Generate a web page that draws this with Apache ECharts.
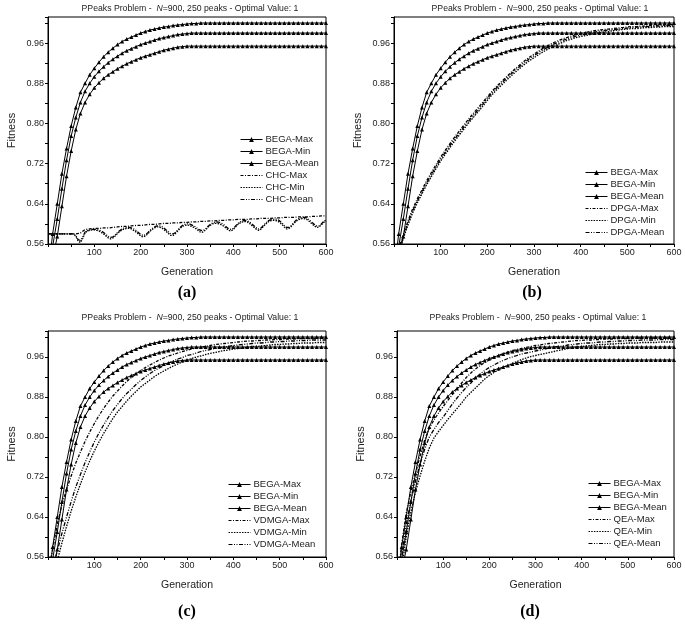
<!DOCTYPE html>
<html><head><meta charset="utf-8">
<script src="https://cdn.jsdelivr.net/npm/echarts@6/dist/echarts.min.js"></script>
<style>html,body{margin:0;padding:0;background:#fff}#c{width:685px;height:629px}</style>
</head><body><div id="c"></div><script>
// ---------- data ----------
const gen10 = [0,10,20,30,40,50,60,70,80,90,100,110,120,130,140,150,160,170,180,190,200,210,220,230,240,250,260,270,280,290,300,310,320,330,340,350,360,370,380,390,400,410,420,430,440,450,460,470,480,490,500,510,520,530,540,550,560,570,580,590,600];
const gen5 = [0,5,10,15,20,25,30,35,40,45,50,55,60,65,70,75,80,85,90,95,100,105,110,115,120,125,130,135,140,145,150,155,160,165,170,175,180,185,190,195,200,205,210,215,220,225,230,235,240,245,250,255,260,265,270,275,280,285,290,295,300,305,310,315,320,325,330,335,340,345,350,355,360,365,370,375,380,385,390,395,400,405,410,415,420,425,430,435,440,445,450,455,460,465,470,475,480,485,490,495,500,505,510,515,520,525,530,535,540,545,550,555,560,565,570,575,580,585,590,595,600];
const xTickLabels = ['100','200','300','400','500','600'];
const yTickLabels = ['0.56','0.64','0.72','0.80','0.88','0.96'];

const begaMax = [0.50,0.58,0.64,0.70,0.75,0.795,0.832,0.862,0.880,0.897,0.910,0.922,0.933,0.942,0.950,0.957,0.963,0.968,0.972,0.976,0.980,0.983,0.986,0.988,0.990,0.992,0.993,0.995,0.996,0.997,0.998,0.999,0.999,1.0,1.0,1.0,1.0,1.0,1.0,1.0,1.0,1.0,1.0,1.0,1.0,1.0,1.0,1.0,1.0,1.0,1.0,1.0,1.0,1.0,1.0,1.0,1.0,1.0,1.0,1.0,1.0];
const begaMean = [0.48,0.555,0.61,0.67,0.727,0.775,0.812,0.842,0.864,0.880,0.893,0.904,0.913,0.921,0.928,0.934,0.940,0.945,0.949,0.953,0.957,0.960,0.963,0.966,0.969,0.971,0.973,0.975,0.977,0.978,0.979,0.98,0.98,0.98,0.98,0.98,0.98,0.98,0.98,0.98,0.98,0.98,0.98,0.98,0.98,0.98,0.98,0.98,0.98,0.98,0.98,0.98,0.98,0.98,0.98,0.98,0.98,0.98,0.98,0.98,0.98];
const begaMin = [0.46,0.53,0.575,0.635,0.695,0.745,0.788,0.820,0.842,0.858,0.871,0.881,0.890,0.897,0.903,0.909,0.914,0.919,0.923,0.927,0.931,0.934,0.937,0.940,0.943,0.946,0.948,0.950,0.952,0.953,0.954,0.954,0.954,0.954,0.954,0.954,0.954,0.954,0.954,0.954,0.954,0.954,0.954,0.954,0.954,0.954,0.954,0.954,0.954,0.954,0.954,0.954,0.954,0.954,0.954,0.954,0.954,0.954,0.954,0.954,0.954];

const chcMax = [0.58,0.58,0.58,0.58,0.58,0.58,0.58,0.582,0.589,0.590,0.591,0.591,0.592,0.592,0.593,0.594,0.595,0.595,0.596,0.597,0.597,0.598,0.599,0.599,0.600,0.601,0.601,0.602,0.602,0.603,0.603,0.604,0.604,0.605,0.605,0.606,0.606,0.607,0.607,0.608,0.608,0.609,0.609,0.609,0.610,0.610,0.611,0.611,0.611,0.612,0.612,0.613,0.613,0.613,0.614,0.614,0.614,0.615,0.615,0.616,0.616];
const chcMean = [0.58,0.58,0.58,0.58,0.58,0.58,0.58,0.58,0.58,0.58,0.58,0.58,
 0.577,0.569,0.567,0.574,0.584,0.587,0.588,0.589,0.589,0.589,
 0.588,0.586,0.583,0.579,0.575,0.573,0.574,0.578,0.583,0.587,
 0.590,0.592,0.593,0.593,0.592,0.590,0.587,0.583,0.579,0.577,
 0.578,0.582,0.587,0.591,0.594,0.596,0.596,0.595,0.592,0.588,
 0.584,0.580,0.580,0.583,0.588,0.593,0.597,0.599,0.600,0.600,
 0.598,0.596,0.593,0.589,0.587,0.587,0.590,0.595,0.599,0.602,
 0.603,0.604,0.603,0.601,0.598,0.594,0.590,0.589,0.591,0.596,
 0.601,0.604,0.606,0.607,0.606,0.604,0.600,0.596,0.592,0.590,
 0.592,0.597,0.602,0.606,0.608,0.609,0.610,0.609,0.606,0.602,
 0.597,0.593,0.593,0.597,0.602,0.607,0.610,0.612,0.613,0.613,
 0.611,0.607,0.603,0.599,0.596,0.596,0.600,0.605,0.608];
const chcMin = [0.58,0.58,0.58,0.58,0.58,0.58,0.58,0.58,0.58,0.58,0.58,0.58,
 0.575,0.566,0.563,0.571,0.582,0.586,0.587,0.588,0.588,0.587,
 0.586,0.583,0.580,0.576,0.572,0.570,0.572,0.576,0.581,0.585,
 0.588,0.590,0.591,0.591,0.590,0.587,0.584,0.580,0.576,0.574,
 0.576,0.580,0.585,0.589,0.592,0.594,0.594,0.592,0.589,0.585,
 0.581,0.577,0.577,0.581,0.586,0.591,0.595,0.597,0.598,0.597,
 0.595,0.593,0.590,0.586,0.583,0.584,0.588,0.593,0.597,0.600,
 0.601,0.601,0.600,0.598,0.595,0.591,0.587,0.586,0.589,0.594,
 0.599,0.602,0.604,0.605,0.604,0.601,0.597,0.593,0.589,0.587,
 0.590,0.595,0.600,0.604,0.606,0.607,0.607,0.606,0.603,0.599,
 0.594,0.590,0.591,0.595,0.600,0.605,0.608,0.610,0.611,0.610,
 0.608,0.604,0.600,0.596,0.593,0.594,0.598,0.603,0.606];

const dpgaMax = [0.533,0.552,0.579,0.606,0.630,0.650,0.668,0.686,0.702,0.718,0.733,0.747,0.760,0.773,0.785,0.797,0.809,0.820,0.831,0.842,0.853,0.864,0.874,0.883,0.892,0.901,0.909,0.917,0.925,0.932,0.938,0.944,0.950,0.955,0.960,0.964,0.968,0.971,0.974,0.977,0.979,0.981,0.983,0.985,0.986,0.987,0.988,0.989,0.990,0.991,0.992,0.993,0.993,0.994,0.994,0.995,0.995,0.996,0.996,0.997,0.997];
const dpgaMean = [0.530,0.548,0.575,0.602,0.626,0.646,0.664,0.682,0.698,0.714,0.729,0.743,0.756,0.769,0.781,0.793,0.805,0.816,0.827,0.838,0.850,0.861,0.871,0.880,0.889,0.898,0.906,0.914,0.922,0.929,0.935,0.941,0.947,0.952,0.957,0.961,0.965,0.968,0.971,0.974,0.976,0.978,0.980,0.982,0.984,0.985,0.986,0.987,0.988,0.989,0.990,0.991,0.992,0.992,0.993,0.993,0.994,0.994,0.995,0.995,0.995];
const dpgaMin = [0.527,0.545,0.571,0.598,0.622,0.642,0.660,0.678,0.694,0.710,0.725,0.739,0.752,0.765,0.777,0.789,0.801,0.812,0.823,0.834,0.846,0.857,0.867,0.876,0.885,0.894,0.902,0.910,0.918,0.925,0.931,0.937,0.943,0.948,0.953,0.957,0.961,0.965,0.968,0.971,0.973,0.975,0.977,0.979,0.981,0.982,0.983,0.985,0.986,0.987,0.988,0.989,0.989,0.990,0.991,0.991,0.992,0.992,0.993,0.993,0.993];

const vdmgaMax = [0.53,0.575,0.625,0.664,0.695,0.722,0.748,0.770,0.791,0.810,0.827,0.843,0.857,0.870,0.882,0.892,0.902,0.911,0.919,0.926,0.933,0.939,0.944,0.949,0.954,0.958,0.962,0.965,0.968,0.971,0.973,0.976,0.978,0.980,0.981,0.983,0.985,0.986,0.987,0.988,0.989,0.990,0.991,0.992,0.992,0.993,0.993,0.994,0.994,0.995,0.995,0.996,0.996,0.996,0.997,0.997,0.997,0.997,0.998,0.998,0.998];
const vdmgaMean = [0.50,0.535,0.572,0.607,0.640,0.671,0.700,0.725,0.749,0.770,0.790,0.808,0.824,0.839,0.853,0.865,0.877,0.887,0.896,0.905,0.913,0.920,0.927,0.933,0.938,0.943,0.948,0.952,0.956,0.959,0.963,0.965,0.968,0.971,0.973,0.975,0.977,0.978,0.980,0.981,0.983,0.984,0.985,0.986,0.987,0.988,0.988,0.989,0.990,0.990,0.991,0.991,0.992,0.992,0.993,0.993,0.993,0.994,0.994,0.994,0.994];
const vdmgaMin = [0.47,0.512,0.552,0.588,0.621,0.652,0.680,0.706,0.730,0.752,0.772,0.790,0.807,0.822,0.837,0.850,0.861,0.872,0.882,0.891,0.900,0.907,0.914,0.921,0.927,0.932,0.937,0.942,0.946,0.950,0.953,0.957,0.960,0.962,0.965,0.967,0.969,0.971,0.973,0.974,0.976,0.977,0.978,0.979,0.981,0.981,0.982,0.983,0.984,0.985,0.985,0.986,0.986,0.987,0.987,0.988,0.988,0.988,0.989,0.989,0.989];

const qeaMax = [0.50,0.585,0.648,0.690,0.727,0.762,0.794,0.818,0.834,0.848,0.861,0.873,0.885,0.896,0.908,0.919,0.928,0.936,0.943,0.949,0.954,0.959,0.963,0.967,0.970,0.973,0.975,0.977,0.979,0.981,0.983,0.984,0.986,0.987,0.988,0.989,0.990,0.991,0.992,0.993,0.993,0.994,0.994,0.995,0.995,0.996,0.996,0.996,0.997,0.997,0.997,0.997,0.998,0.998,0.998,0.998,0.998,0.998,0.998,0.998,0.998];
const qeaMean = [0.48,0.56,0.625,0.672,0.712,0.746,0.776,0.800,0.815,0.829,0.840,0.853,0.866,0.878,0.889,0.899,0.908,0.918,0.926,0.933,0.939,0.944,0.949,0.953,0.957,0.960,0.963,0.966,0.968,0.970,0.972,0.974,0.976,0.978,0.980,0.981,0.982,0.984,0.985,0.986,0.987,0.988,0.988,0.989,0.990,0.990,0.991,0.991,0.992,0.992,0.993,0.993,0.993,0.994,0.994,0.994,0.994,0.995,0.995,0.995,0.995];
const qeaMin = [0.46,0.535,0.600,0.650,0.690,0.722,0.752,0.778,0.798,0.811,0.823,0.835,0.846,0.857,0.868,0.880,0.889,0.898,0.907,0.916,0.923,0.929,0.934,0.939,0.943,0.947,0.951,0.955,0.958,0.961,0.963,0.965,0.967,0.969,0.971,0.973,0.975,0.977,0.979,0.980,0.981,0.982,0.983,0.984,0.985,0.985,0.986,0.986,0.987,0.987,0.988,0.988,0.988,0.989,0.989,0.989,0.989,0.990,0.990,0.990,0.990];

// ---------- layout ----------
const FONT = '"Liberation Sans", Arial, sans-serif';
const TITLE = 'PPeaks Problem -  {i|N}=900, 250 peaks - Optimal Value: 1';
const panels = [
  {grid:{left:48, top:17, width:278, height:227}, tag:'(a)', tagX:187, tagY:293, titleX:190, titleY:9,
   legend:{left:240, top:134}, other:'CHC',
   otherData:[[gen10, chcMax],[gen5, chcMin],[gen5, chcMean]]},
  {grid:{left:394, top:17, width:280, height:227}, tag:'(b)', tagX:532, tagY:293, titleX:540, titleY:9,
   legend:{left:585, top:167}, other:'DPGA',
   otherData:[[gen10, dpgaMax],[gen10, dpgaMin],[gen10, dpgaMean]]},
  {grid:{left:48, top:331, width:278, height:226}, tag:'(c)', tagX:187, tagY:612, titleX:190, titleY:318,
   legend:{left:228, top:479}, other:'VDMGA',
   otherData:[[gen10, vdmgaMax],[gen10, vdmgaMin],[gen10, vdmgaMean]]},
  {grid:{left:397, top:331, width:277, height:226}, tag:'(d)', tagX:530, tagY:612, titleX:538, titleY:318,
   legend:{left:588, top:478}, other:'QEA',
   otherData:[[gen10, qeaMax],[gen10, qeaMin],[gen10, qeaMean]]}
];

const pairs = (xs, ys) => ys.map((y, i) => [xs[i], y]);
const dashes = [[3,1.5,1,1.5],[1.5,1.2],[4,1.5,1,1.5,1,1.5]];

const grids = [], xAxes = [], yAxes = [], series = [], legends = [], graphics = [];
panels.forEach((p, i) => {
  grids.push(Object.assign({show:true, borderColor:'#000', borderWidth:1}, p.grid));
  xAxes.push({
    gridIndex:i, type:'value', min:0, max:600, interval:50,
    axisLine:{show:true, onZero:false, lineStyle:{color:'#000', width:1}},
    axisTick:{show:true, length:3, lineStyle:{color:'#000'}},
    splitLine:{show:false},
    axisLabel:{fontSize:9, color:'#222', fontFamily:FONT, margin:4,
      formatter: v => xTickLabels.includes(String(Math.round(v))) ? String(Math.round(v)) : ''},
    name:'Generation', nameLocation:'middle', nameGap:23,
    nameTextStyle:{fontSize:10.5, color:'#222', fontFamily:FONT}
  });
  yAxes.push({
    gridIndex:i, type:'value', min:0.56, max:1.012, interval:0.04,
    axisLine:{show:true, onZero:false, lineStyle:{color:'#000', width:1}},
    axisTick:{show:true, length:3, lineStyle:{color:'#000'}},
    splitLine:{show:false},
    axisLabel:{fontSize:9, color:'#222', fontFamily:FONT, margin:4,
      formatter: v => { const s = v.toFixed(2); return yTickLabels.includes(s) ? s : ''; }},
    name:'Fitness', nameLocation:'middle', nameGap:31,
    nameTextStyle:{fontSize:11, color:'#222', fontFamily:FONT}
  });
  const bega = [['BEGA-Max', begaMax], ['BEGA-Min', begaMin], ['BEGA-Mean', begaMean]];
  bega.forEach(([name, ys]) => series.push({
    name, type:'line', xAxisIndex:i, yAxisIndex:i, data:pairs(gen10, ys),
    symbol:'triangle', symbolSize:4, showSymbol:true, clip:true,
    lineStyle:{color:'#000', width:1}, itemStyle:{color:'#000'}
  }));
  const suff = ['-Max','-Min','-Mean'];
  p.otherData.forEach(([xs, ys], k) => series.push({
    name:p.other + suff[k], type:'line', xAxisIndex:i, yAxisIndex:i, data:pairs(xs, ys),
    symbol:'none', clip:true,
    lineStyle:{color:'#000', width:1.3, type:dashes[k]}, itemStyle:{color:'#000'}
  }));
  legends.push({
    orient:'vertical', left:p.legend.left, top:p.legend.top,
    itemWidth:22, itemHeight:6, itemGap:1, padding:0,
    lineStyle:{width:1},
    textStyle:{fontSize:9.5, color:'#222', fontFamily:FONT, lineHeight:11, padding:[0,0,0,-2]},
    data:[
      {name:'BEGA-Max'}, {name:'BEGA-Min'}, {name:'BEGA-Mean'},
      {name:p.other+'-Max', itemStyle:{opacity:0}},
      {name:p.other+'-Min', itemStyle:{opacity:0}},
      {name:p.other+'-Mean', itemStyle:{opacity:0}}
    ]
  });
  graphics.push({type:'text', x:p.titleX, y:p.titleY, style:{
    text:TITLE, align:'center', verticalAlign:'middle', fontSize:8.7, fontFamily:FONT, fill:'#222',
    rich:{i:{fontStyle:'italic', fontSize:8.7, fontFamily:FONT, fill:'#222'}}}});
  graphics.push({type:'text', x:p.tagX, y:p.tagY, style:{
    text:p.tag, align:'center', verticalAlign:'middle', fontSize:16, fontWeight:'bold',
    fontFamily:'"Liberation Serif", "Times New Roman", serif', fill:'#000'}});
});

const chart = echarts.init(document.getElementById('c'), null, {renderer:'canvas'});
chart.setOption({
  backgroundColor:'#fff', animation:false,
  textStyle:{fontFamily:FONT},
  grid:grids, xAxis:xAxes, yAxis:yAxes, series, legend:legends, graphic:graphics
});
</script></body></html>
